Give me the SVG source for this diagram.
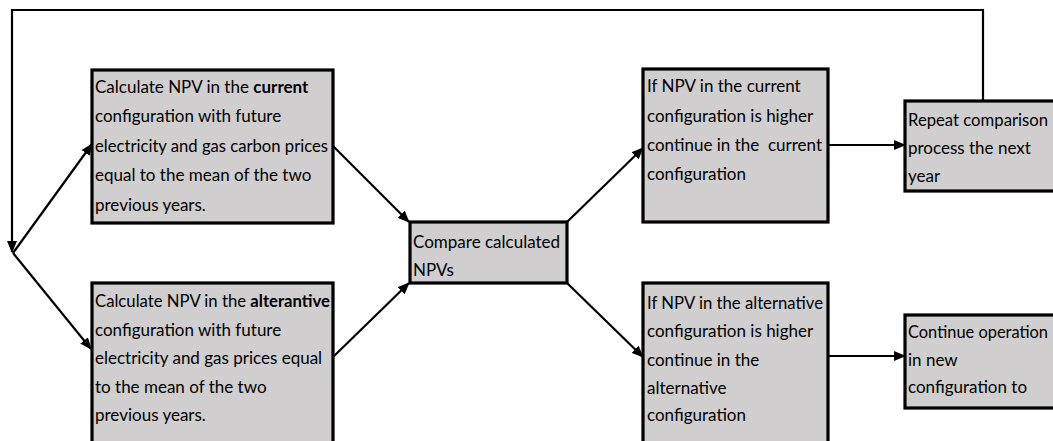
<svg xmlns="http://www.w3.org/2000/svg" width="1053" height="441" viewBox="0 0 1053 441">
<style>
.box{fill:#d0cece;stroke:#000;stroke-width:3.2}
.t{font-family:Lato,"Noto Sans",sans-serif;font-size:17px;fill:#000}
.b{font-weight:bold}
.c{fill:none;stroke:#000;stroke-width:2.2}
</style>
<defs>
<marker id="ah" markerUnits="userSpaceOnUse" markerWidth="12" markerHeight="10" refX="11" refY="5" orient="auto">
<path d="M0,0 L12,5 L0,10 Z" fill="#000"/>
</marker>
</defs>
<rect width="1053" height="441" fill="#fff"/>
<g id="connectors">
<polyline class="c" points="983,101 983,10 12,10 12,252" marker-end="url(#ah)"/>
<line class="c" x1="13" y1="253" x2="92" y2="144" marker-end="url(#ah)"/>
<line class="c" x1="13" y1="253" x2="91" y2="349" marker-end="url(#ah)"/>
<line class="c" x1="333" y1="146" x2="409" y2="222" marker-end="url(#ah)"/>
<line class="c" x1="333" y1="357" x2="409" y2="283" marker-end="url(#ah)"/>
<line class="c" x1="567" y1="222" x2="643" y2="148" marker-end="url(#ah)"/>
<line class="c" x1="567" y1="283" x2="643" y2="357" marker-end="url(#ah)"/>
<line class="c" x1="828" y1="145" x2="905" y2="145" marker-end="url(#ah)"/>
<line class="c" x1="828" y1="356" x2="905" y2="356" marker-end="url(#ah)"/>
</g>
<g id="calc-current">
<rect class="box" x="92" y="70" width="241" height="153"/>
<text class="t" x="95" y="93">Calculate NPV in the <tspan class="b">current</tspan></text>
<text class="t" x="95" y="122">configuration with future</text>
<text class="t" x="95" y="152" textLength="233" lengthAdjust="spacingAndGlyphs">electricity and gas carbon prices</text>
<text class="t" x="95" y="181">equal to the mean of the two</text>
<text class="t" x="95" y="211">previous years.</text>
</g>
<g id="calc-alternative">
<rect class="box" x="92" y="283" width="241" height="165"/>
<text class="t" x="95" y="307" textLength="235" lengthAdjust="spacingAndGlyphs">Calculate NPV in the <tspan class="b">alterantive</tspan></text>
<text class="t" x="95" y="336">configuration with future</text>
<text class="t" x="95" y="364">electricity and gas prices equal</text>
<text class="t" x="95" y="393">to the mean of the two</text>
<text class="t" x="95" y="421">previous years.</text>
</g>
<g id="compare">
<rect class="box" x="410" y="222" width="157" height="61"/>
<text class="t" x="413" y="248">Compare calculated</text>
<text class="t" x="413" y="276">NPVs</text>
</g>
<g id="current-higher">
<rect class="box" x="643" y="69" width="185" height="153"/>
<text class="t" x="647" y="92">If NPV in the current</text>
<text class="t" x="647" y="122">configuration is higher</text>
<text class="t" x="647" y="151" style="white-space:pre">continue in the  current</text>
<text class="t" x="647" y="180">configuration</text>
</g>
<g id="alternative-higher">
<rect class="box" x="643" y="283" width="185" height="165"/>
<text class="t" x="647" y="309" textLength="176" lengthAdjust="spacingAndGlyphs">If NPV in the alternative</text>
<text class="t" x="647" y="337">configuration is higher</text>
<text class="t" x="647" y="366">continue in the</text>
<text class="t" x="647" y="394">alternative</text>
<text class="t" x="647" y="421">configuration</text>
</g>
<g id="repeat">
<rect class="box" x="905" y="101" width="160" height="90"/>
<text class="t" x="908" y="126" textLength="140" lengthAdjust="spacingAndGlyphs">Repeat comparison</text>
<text class="t" x="908" y="154">process the next</text>
<text class="t" x="908" y="182">year</text>
</g>
<g id="continue-operation">
<rect class="box" x="905" y="315" width="160" height="93"/>
<text class="t" x="908" y="338" textLength="140" lengthAdjust="spacingAndGlyphs">Continue operation</text>
<text class="t" x="908" y="366">in new</text>
<text class="t" x="908" y="393">configuration to</text>
</g>
</svg>
